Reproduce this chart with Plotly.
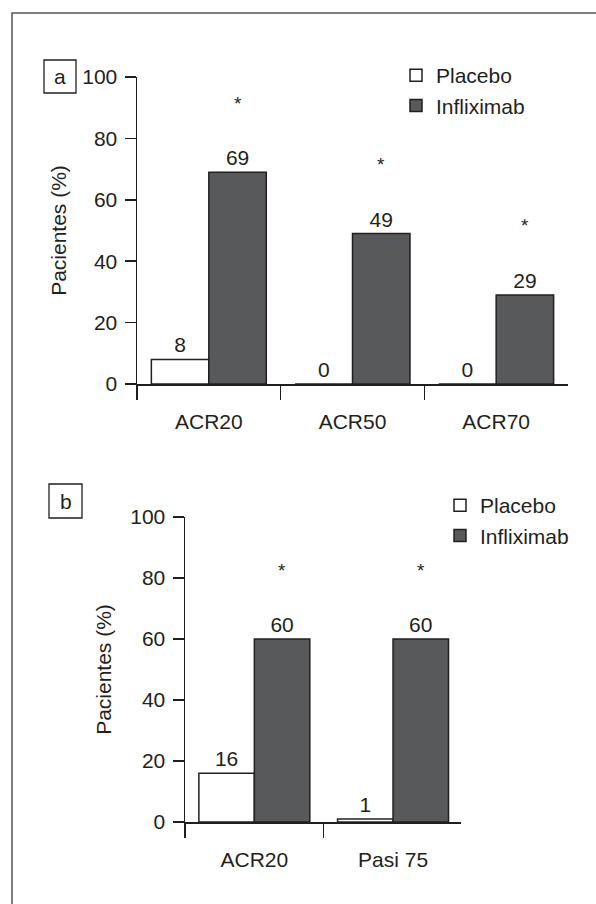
import plotly.graph_objects as go

# ---------------- data ----------------
cats_a = ["ACR20", "ACR50", "ACR70"]
placebo_a = [8, 0, 0]
inflix_a = [69, 49, 29]
star_a = [True, True, True]

cats_b = ["ACR20", "Pasi 75"]
placebo_b = [16, 1]
inflix_b = [60, 60]
star_b = [True, True]

y_ticks = [0, 20, 40, 60, 80, 100]
series_names = ["Placebo", "Infliximab"]
panel_labels = ["a", "b"]
y_title = "Pacientes (%)"

# ---------------- style ----------------
W, H = 596, 904
INK = "#231f20"
DARK = "#58595b"
FONT = "Liberation Sans, Arial, Helvetica, sans-serif"
FS = 21


def px_x(p):
    return p / W


def px_y(p):
    return 1 - p / H


fig = go.Figure()

bar_line = dict(color=INK, width=1.5)

# panel a
fig.add_trace(go.Bar(x=cats_a, y=placebo_a, name=series_names[0],
                     marker=dict(color="white", line=bar_line),
                     text=[str(v) for v in placebo_a], textposition="outside",
                     cliponaxis=False, constraintext="none",
                     xaxis="x", yaxis="y", legend="legend", offsetgroup="p"))
fig.add_trace(go.Bar(x=cats_a, y=inflix_a, name=series_names[1],
                     marker=dict(color=DARK, line=bar_line),
                     text=[str(v) for v in inflix_a], textposition="outside",
                     cliponaxis=False, constraintext="none",
                     xaxis="x", yaxis="y", legend="legend", offsetgroup="i"))
# panel b
fig.add_trace(go.Bar(x=cats_b, y=placebo_b, name=series_names[0],
                     marker=dict(color="white", line=bar_line),
                     text=[str(v) for v in placebo_b], textposition="outside",
                     cliponaxis=False, constraintext="none",
                     xaxis="x2", yaxis="y2", legend="legend2", offsetgroup="p"))
fig.add_trace(go.Bar(x=cats_b, y=inflix_b, name=series_names[1],
                     marker=dict(color=DARK, line=bar_line),
                     text=[str(v) for v in inflix_b], textposition="outside",
                     cliponaxis=False, constraintext="none",
                     xaxis="x2", yaxis="y2", legend="legend2", offsetgroup="i"))

fig.update_traces(textfont=dict(size=FS, color=INK))

annotations = []
# significance stars above the Infliximab bars
for i, (v, s) in enumerate(zip(inflix_a, star_a)):
    if s:
        annotations.append(dict(x=i + 0.2, y=v, xref="x", yref="y", text="*",
                                showarrow=False, yshift=69,
                                font=dict(size=19, color=INK)))
for i, (v, s) in enumerate(zip(inflix_b, star_b)):
    if s:
        annotations.append(dict(x=i + 0.2, y=v, xref="x2", yref="y2", text="*",
                                showarrow=False, yshift=69,
                                font=dict(size=19, color=INK)))

# panel letters in boxes
boxes = [(44, 60, 76, 93), (49, 484, 82, 518)]
shapes = []
for lab, (x0, y0, x1, y1) in zip(panel_labels, boxes):
    shapes.append(dict(type="rect", xref="paper", yref="paper",
                       x0=px_x(x0), x1=px_x(x1), y0=px_y(y0), y1=px_y(y1),
                       line=dict(color=INK, width=1.3), fillcolor="rgba(0,0,0,0)"))
    annotations.append(dict(x=px_x((x0 + x1) / 2), y=px_y((y0 + y1) / 2),
                            xref="paper", yref="paper", text=lab, showarrow=False,
                            xanchor="center", yanchor="middle",
                            font=dict(size=FS, color=INK)))

# outer frame (cropped on the right and bottom)
shapes.append(dict(type="rect", xref="paper", yref="paper",
                   x0=px_x(12), x1=1.05, y0=-0.05, y1=px_y(13),
                   line=dict(color="#555555", width=1.5), fillcolor="rgba(0,0,0,0)",
                   layer="below"))

common_x = dict(type="category", tickson="boundaries", ticks="outside", ticklen=14,
                tickwidth=1.5, tickcolor=INK, showline=True, linewidth=1.5,
                linecolor=INK, showgrid=False, zeroline=False, automargin=False,
                tickfont=dict(size=FS, color=INK), ticklabelstandoff=18,
                fixedrange=True)
common_y = dict(range=[0, 100], tickvals=y_ticks, ticks="outside", ticklen=11,
                tickwidth=1.5, tickcolor=INK, showline=True, linewidth=1.5,
                linecolor=INK, showgrid=False, zeroline=False, automargin=False,
                tickfont=dict(size=FS, color=INK), ticklabelstandoff=3,
                fixedrange=True)

fig.update_layout(
    width=W, height=H, margin=dict(l=0, r=0, t=0, b=0, autoexpand=False),
    paper_bgcolor="white", plot_bgcolor="white",
    font=dict(family=FONT, size=FS, color=INK),
    barmode="group", bargap=0.2, bargroupgap=0,
    xaxis=dict(common_x, domain=[px_x(137), px_x(568)], anchor="y",
               range=[-0.5, 2.5]),
    yaxis=dict(common_y, domain=[px_y(384), px_y(77)], anchor="x",
               title=dict(text=y_title, standoff=10, font=dict(size=FS, color=INK))),
    xaxis2=dict(common_x, domain=[px_x(185), px_x(461)], anchor="y2",
                range=[-0.5, 1.49]),
    yaxis2=dict(common_y, domain=[px_y(822), px_y(517)], anchor="x2",
                title=dict(text=y_title, standoff=13, font=dict(size=FS, color=INK))),
    legend=dict(x=px_x(396), y=px_y(55), xanchor="left", yanchor="top",
                bgcolor="rgba(0,0,0,0)", font=dict(size=FS, color=INK),
                traceorder="normal"),
    legend2=dict(x=px_x(440), y=px_y(485), xanchor="left", yanchor="top",
                 bgcolor="rgba(0,0,0,0)", font=dict(size=FS, color=INK),
                 traceorder="normal"),
    showlegend=True,
    annotations=annotations,
    shapes=shapes,
)

fig.write_html("out.html",
               config={"displayModeBar": False, "staticPlot": True},
               post_script="document.body.style.margin='0';"
                           "document.body.style.overflow='hidden';")
